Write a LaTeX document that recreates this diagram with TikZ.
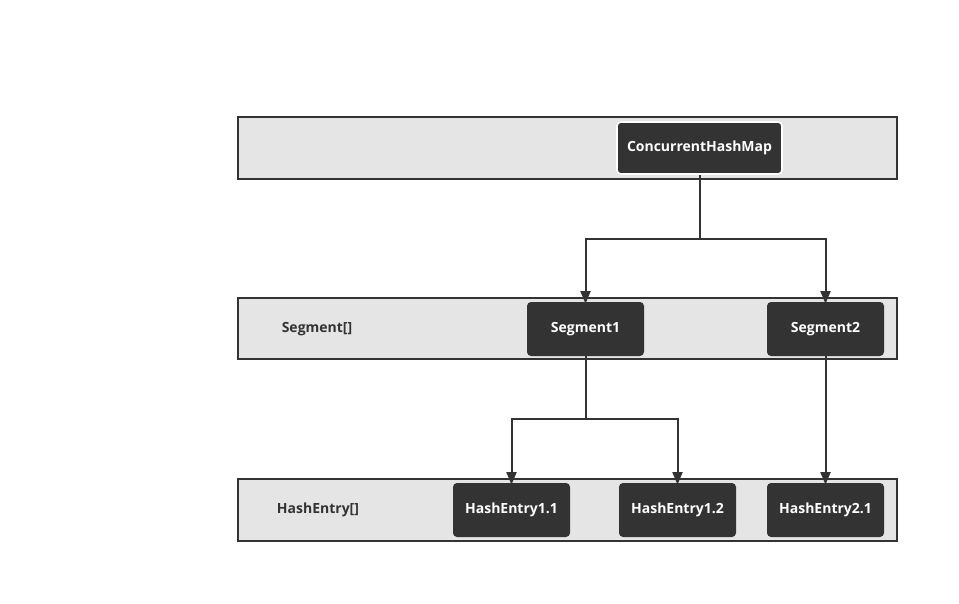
\documentclass[tikz,border=0pt]{standalone}
\usepackage{fontspec}
\setmainfont{Open Sans}
\usepackage{tikz}
\usetikzlibrary{arrows.meta, positioning}
\definecolor{darkbox}{HTML}{333333}
\definecolor{bandgray}{HTML}{E5E5E5}
\newcommand{\boxfont}{\fontsize{10.5}{12}\selectfont\bfseries}

\begin{document}
\begin{tikzpicture}[x=0.75pt,y=-0.75pt,>={Triangle[width=7.5pt,length=9.5pt]},
        band/.style={draw=darkbox,fill=bandgray,line width=1.5pt},
        entry node/.style={rectangle,rounded corners=3pt,fill=darkbox,text=white,
          font=\boxfont,minimum width=87.75pt,minimum height=40.5pt,inner sep=0pt},
        level label/.style={font=\boxfont,text=darkbox},
        link/.style={draw=darkbox,line width=1.5pt,shorten >=-1.5pt}]
    \useasboundingbox (0,0) rectangle (959,603);
    % the three levels
    \draw[band] (238,117) rectangle (897,179);
    \draw[band] (238,298) rectangle (897,359);
    \draw[band] (238,479) rectangle (897,541);
    \node[entry node, minimum width=123.75pt, minimum height=39pt, draw=white, line width=1.2pt] (map) at (699.5,148) {ConcurrentHashMap};
    \node[level label] (segarr) at (317,329) {Segment[]};
    \node[entry node] (seg1) at (585.5,329) {Segment1};
    \node[entry node] (seg2) at (825.5,329) {Segment2};
    \node[level label] (entarr) at (318,510) {HashEntry[]};
    \node[entry node] (ent11) at (511.5,510) {HashEntry1.1};
    \node[entry node] (ent12) at (677.5,510) {HashEntry1.2};
    \node[entry node] (ent21) at (825.5,510) {HashEntry2.1};
    % connectors
    \draw[link, ->] (map.south) -- ++(0,64) -| (seg1.north);
    \draw[link, ->] (map.south) -- ++(0,64) -| (seg2.north);
    \draw[link, ->] (seg1.south) -- ++(0,63) -| (ent11.north);
    \draw[link, ->] (seg1.south) -- ++(0,63) -| (ent12.north);
    \draw[link, ->] (seg2.south) -- (ent21.north);
  \end{tikzpicture}
\end{document}
